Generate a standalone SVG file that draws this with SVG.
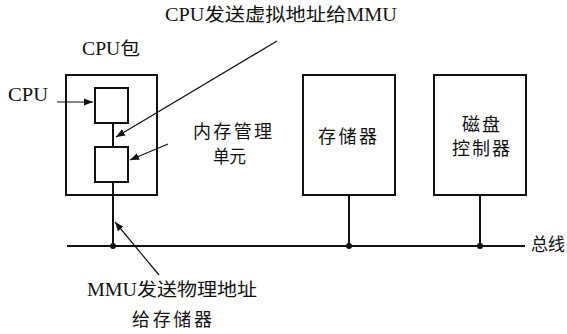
<svg xmlns="http://www.w3.org/2000/svg" width="567" height="334" viewBox="0 0 567 334">
<defs>
<style>
.box{fill:none;stroke:#111;stroke-width:2}
.wire{stroke:#111;stroke-width:2;fill:none}
.ptr{stroke:#111;stroke-width:1.2;fill:none;marker-end:url(#ah)}
.dot{fill:#111}
text{font-family:"Liberation Serif","Noto Sans CJK SC",serif;font-size:18px;fill:#111}
</style>
<marker id="ah" viewBox="0 0 10 10" refX="10" refY="5" markerWidth="9" markerHeight="9" markerUnits="userSpaceOnUse" orient="auto">
<path d="M0,1 L10,5 L0,9 Z" fill="#111"/>
</marker>
</defs>
<rect width="567" height="334" fill="#fff"/>
<g id="cpu-package">
<rect class="box" x="66" y="75" width="91" height="120"/>
<text x="82" y="55" textLength="58" lengthAdjust="spacingAndGlyphs">CPU包</text>
</g>
<g id="cpu">
<rect class="box" x="95" y="88" width="33" height="35"/>
<text x="8" y="101" textLength="40" lengthAdjust="spacingAndGlyphs">CPU</text>
</g>
<g id="mmu">
<rect class="box" x="95" y="147" width="33" height="35"/>
<text x="193" y="138" textLength="79" lengthAdjust="spacing">内存管理</text>
<text x="213" y="163" textLength="33" lengthAdjust="spacingAndGlyphs">单元</text>
</g>
<g id="memory">
<rect class="box" x="303" y="75" width="92" height="120"/>
<text x="318" y="143" textLength="59" lengthAdjust="spacing">存储器</text>
</g>
<g id="disk-controller">
<rect class="box" x="434" y="75" width="92" height="120"/>
<text x="462" y="131" textLength="38" lengthAdjust="spacing">磁盘</text>
<text x="452" y="155" textLength="58" lengthAdjust="spacing">控制器</text>
</g>
<g id="bus">
<line class="wire" x1="67" y1="246" x2="525" y2="246"/>
<text x="531" y="251" textLength="34" lengthAdjust="spacingAndGlyphs">总线</text>
</g>
<g id="connectors">
<line class="wire" x1="113" y1="123" x2="113" y2="147"/>
<line class="wire" x1="113" y1="182" x2="113" y2="246"/>
<line class="wire" x1="349" y1="195" x2="349" y2="246"/>
<line class="wire" x1="480" y1="195" x2="480" y2="246"/>
<circle class="dot" cx="113" cy="246" r="3"/>
<circle class="dot" cx="349" cy="246" r="3"/>
<circle class="dot" cx="480" cy="246" r="3"/>
<line class="ptr" x1="57" y1="102" x2="93" y2="102"/>
<line class="ptr" x1="277" y1="41" x2="116" y2="137"/>
<line class="ptr" x1="168" y1="144" x2="130" y2="160"/>
<line class="ptr" x1="159" y1="275" x2="115" y2="222"/>
</g>
<g id="labels">
<text x="165" y="21" textLength="232" lengthAdjust="spacingAndGlyphs">CPU发送虚拟地址给MMU</text>
<text x="87" y="296" textLength="170" lengthAdjust="spacingAndGlyphs">MMU发送物理地址</text>
<text x="132" y="326" textLength="80" lengthAdjust="spacing">给存储器</text>
</g>
</svg>
